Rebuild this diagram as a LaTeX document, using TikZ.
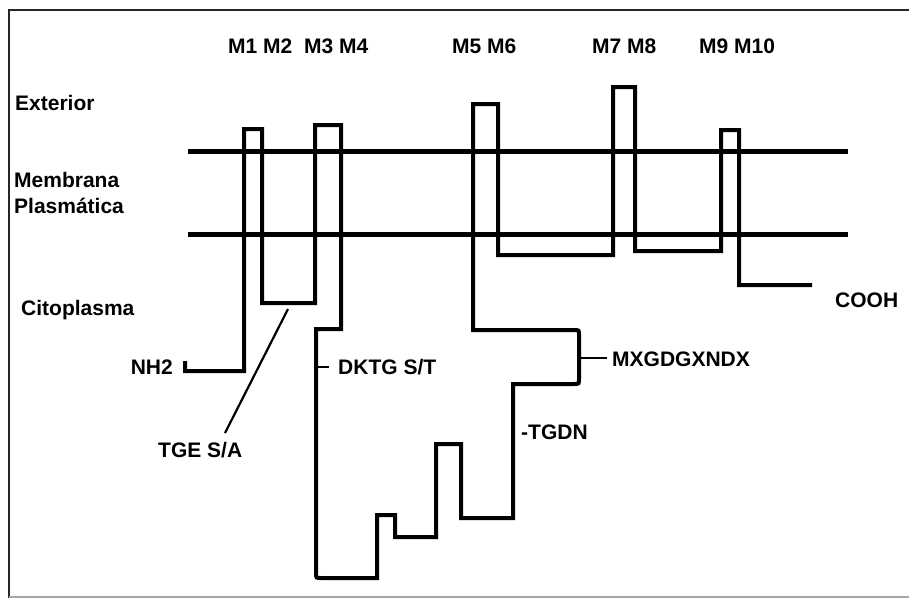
\documentclass[tikz,border=0pt]{standalone}
\usepackage{fontspec}
\setmainfont{Liberation Sans}
\begin{document}
\begin{tikzpicture}[x=1pt,y=-1pt,
  lbl/.style={anchor=base west,inner sep=0pt,font=\fontsize{21}{24}\selectfont\bfseries},
  trace/.style={line width=4pt,line join=miter},
  memb/.style={line width=5pt},
  tick/.style={line width=2pt}]
\useasboundingbox (0,0) rectangle (909,602);
% frame
\draw[line width=2pt,black!85] (909,10) -- (9,10) -- (9,598);
\draw[line width=1.5pt,black!35] (9,597) -- (909,597);
% membrane lines
\coordinate (u1) at (188,151); \coordinate (u2) at (848,151);
\coordinate (l1) at (188,234); \coordinate (l2) at (848,234);
\draw[memb] (u1) -- (u2);
\draw[memb] (l1) -- (l2);
% protein trace
\coordinate (nstart) at (185,361);
\coordinate (cend) at (812,285);
\draw[trace] (nstart) -- (185,371) -- (244,371) -- (244,129) -- (262,129) -- (262,303)
  -- (315,303) -- (315,125) -- (341,125) -- (341,329) -- (316,329)
  -- (316,573) .. controls (316,578) .. (321,578)
  -- (377,578) -- (377,515) -- (395,515) -- (395,537) -- (436,537) -- (436,444)
  -- (461,444) -- (461,518) -- (513,518) -- (513,384)
  -- (574,384) .. controls (579,384) .. (579,379)
  -- (579,335) .. controls (579,330) .. (574,330)
  -- (473,330) -- (473,104) -- (498,104) -- (498,255) -- (613,255) -- (613,87)
  -- (635,87) -- (635,251) -- (721,251) -- (721,130) -- (739,130) -- (739,285)
  -- (cend);
% labels
\node[lbl] (m14) at (228,53) {M1 M2\ \ M3 M4};
\node[lbl] (m56) at (452,53) {M5 M6};
\node[lbl] (m78) at (592,53) {M7 M8};
\node[lbl] (m910) at (699,53) {M9 M10};
\node[lbl] (ext) at (15,110) {Exterior};
\node[lbl] (mem) at (14,187) {Membrana};
\node[lbl] (pla) at (14,213) {Plasmática};
\node[lbl] (cit) at (21,315) {Citoplasma};
\node[lbl,anchor=base east] (nh2) at (173,374) {NH2};
\node[lbl] (tge) at (158,457) {TGE S/A};
\node[lbl] (dktg) at (338,374) {DKTG S/T};
\node[lbl] (mx) at (612,366) {MXGDGXNDX};
\node[lbl] (tgdn) at (521,439) {-TGDN};
\node[lbl] (cooh) at (835,307) {COOH};
% label connectors
\coordinate (tgetop) at (288,309);
\coordinate (tgebot) at (225,433);
\draw[line width=2.2pt] (tgetop) -- (tgebot);
\coordinate (dk1) at (318,367); \coordinate (dk2) at (329,367);
\draw[tick] (dk1) -- (dk2);
\coordinate (mx1) at (581,358); \coordinate (mx2) at (607,358);
\draw[tick] (mx1) -- (mx2);
\end{tikzpicture}
\end{document}
